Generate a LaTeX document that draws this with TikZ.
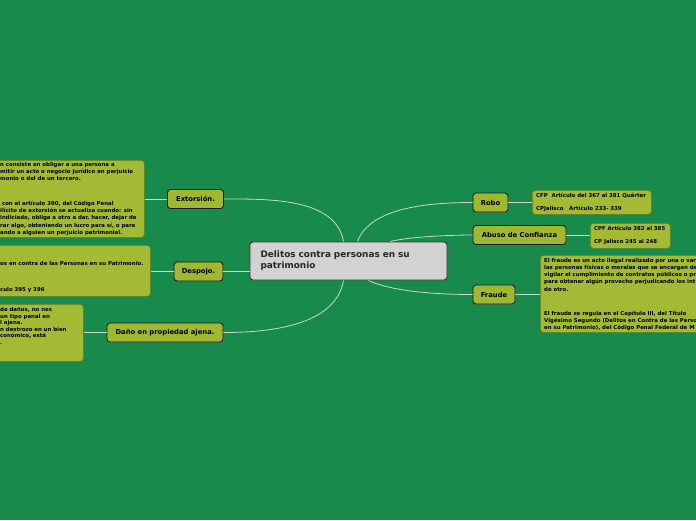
\documentclass[tikz,border=0pt]{standalone}
\usepackage{fontspec}
\setmainfont{DejaVu Sans}
\usepackage{xcolor}
\usepackage{tikz}
\usetikzlibrary{shadows}

\definecolor{bggreen}{RGB}{23,138,76}
\definecolor{topicfill}{RGB}{160,184,48}
\definecolor{notefill}{RGB}{164,186,52}
\definecolor{notedraw}{RGB}{98,128,32}
\definecolor{centerfill}{RGB}{210,210,210}
\definecolor{linkgray}{RGB}{198,220,204}

\begin{document}
\begin{tikzpicture}[
  x=1pt, y=1pt,
  central/.style={draw=black!80, line width=0.9pt, rounded corners=3pt, fill=centerfill, minimum width=197pt, minimum height=38pt, text width=176pt, align=left, text=black!85, font=\fontsize{8.9}{11}\selectfont\bfseries},
  topic/.style={draw=black!90, line width=0.9pt, rounded corners=3pt, fill=topicfill, minimum height=19pt, inner xsep=0pt, font=\fontsize{6.8}{8}\selectfont\bfseries, drop shadow={shadow xshift=0.6pt, shadow yshift=-0.8pt, opacity=0.45}},
  note/.style={draw=notedraw, line width=0.7pt, rounded corners=3pt, fill=notefill, anchor=north west, inner sep=0pt},
  notetext/.style={anchor=north west, align=left, inner sep=0pt, font=\fontsize{5.4}{7.2}\selectfont\bfseries},
  link/.style={draw=linkgray, line width=0.8pt}
]
\useasboundingbox (0,0) rectangle (696,-520);
\clip (0,0) rectangle (696,-520);
\fill[bggreen] (0,0) rectangle (696,-520);

% centre
\node[central] (root) at (348.5,-261) {Delitos contra personas en su\\patrimonio};

% left branches
\node[topic, minimum width=56pt] (ext) at (195.5,-199) {Extorsión.};
\node[topic, minimum width=49pt] (desp) at (198.5,-271.5) {Despojo.};
\node[topic, minimum width=116pt] (dano) at (165,-332.5) {Daño en propiedad ajena.};

% right branches
\node[topic, minimum width=35pt] (robo) at (490.5,-202.5) {Robo};
\node[topic, minimum width=93pt] (abuso) at (519.5,-235) {Abuso de Confianza};
\node[topic, minimum width=42pt] (fraude) at (494,-294.5) {Fraude};

% notes
\node[note, minimum width=150pt, minimum height=77pt] (extnote) at (-6,-160) {};
\node[note, minimum width=156pt, minimum height=51pt] (despnote) at (-6,-245) {};
\node[note, minimum width=89pt, minimum height=57pt] (danonote) at (-6,-304) {};
\node[note, minimum width=119pt, minimum height=24pt] (robonote) at (532,-190) {};
\node[note, minimum width=80pt, minimum height=25pt] (abusonote) at (590,-223) {};
\node[note, minimum width=170pt, minimum height=77pt] (fraudenote) at (540,-255) {};

\node[notetext] (ext1) at (0,-162) {n consiste en obligar a una persona a\\mitir un acto o negocio jurídico en perjuicio\\monio o del de un tercero.};
\node[notetext] (ext2) at (0,-201) {\ con el artículo 390, del Código Penal\\ilícito de extorsión se actualiza cuando: sin\\indiciado, obliga a otro a dar, hacer, dejar de\\rar algo, obteniendo un lucro para sí, o para\\ando a alguien un perjuicio patrimonial.};
\node[notetext] (desp1) at (0,-261) {os en contra de las Personas en su Patrimonio.};
\node[notetext] (desp2) at (0,-287) {culo 395 y 396};
\node[notetext, font=\fontsize{5.4}{6.6}\selectfont\bfseries] (dano1) at (0,-307) {de daños, no nos\\un tipo penal en\\l ajena.\\n destrozo en un bien\\conómico, está\\.};
\node[notetext] (robo1) at (536,-193) {CFP\ \ Artículo del 367 al 381 Quárter};
\node[notetext] (robo2) at (536,-206) {CPJalisco\ \ \ Artículo 233- 339};
\node[notetext] (abuso1) at (594,-226) {CPF Artículo 382 al 385};
\node[notetext] (abuso2) at (594,-239) {CP Jalisco 245 al 248};
\node[notetext] (fraude1) at (544,-258) {El fraude es un acto ilegal realizado por una o var\\las personas físicas o morales que se encargan de\\vigilar el cumplimiento de contratos públicos o pr\\para obtener algún provecho perjudicando los int\\de otro.};
\node[notetext] (fraude2) at (544,-311) {El fraude se regula en el Capítulo III, del Título\\Vigésimo Segundo (Delitos en Contra de las Perso\\en su Patrimonio), del Código Penal Federal de M};

% links
\draw[link] ([xshift=-5pt]root.north) to[out=100, in=0, looseness=0.9] (ext.east);
\draw[link] (desp.east -| root.west) -- (desp.east);
\draw[link] ([xshift=-5pt]root.south) to[out=-100, in=0, looseness=0.9] (dano.east);
\draw[link] ([xshift=9pt]root.north) to[out=70, in=180, looseness=0.8] (robo.west);
\draw[link] ([xshift=42pt]root.north) to[out=15, in=180, looseness=0.6] (abuso.west);
\draw[link] ([xshift=20pt]root.south) to[out=-25, in=180, looseness=0.7] (fraude.west);

\draw[link] (ext.west) -- (extnote.east |- ext.west);
\draw[link] (desp.west) -- (despnote.east |- desp.west);
\draw[link] (dano.west) -- (danonote.east |- dano.west);
\draw[link] (robo.east) -- (robonote.west |- robo.east);
\draw[link] (abuso.east) -- (abusonote.west |- abuso.east);
\draw[link] (fraude.east) -- (fraudenote.west |- fraude.east);
\end{tikzpicture}
\end{document}
